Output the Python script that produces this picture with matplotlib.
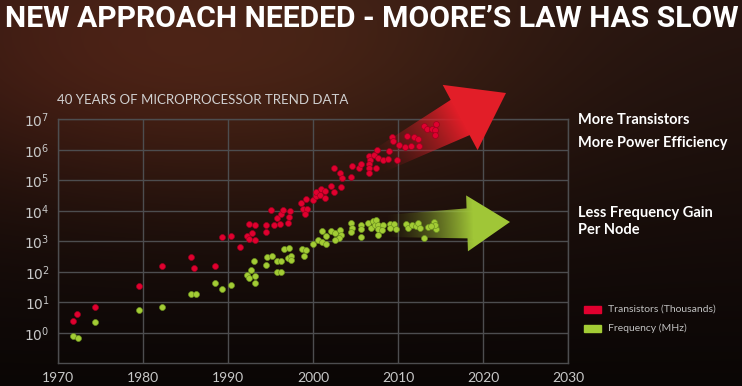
import numpy as np
import matplotlib
matplotlib.use("Agg")
import matplotlib.pyplot as plt
from matplotlib.patches import Polygon

# ---------------------------------------------------------------------------
# data
# ---------------------------------------------------------------------------
trans_year = [1971.8, 1972.2, 1974.3, 1979.5, 1982.2, 1985.7, 1986.0, 1988.5, 1989.3, 1990.4,
              1991.4, 1992.2, 1992.5, 1992.8, 1993.2, 1992.5, 1993.2, 1994.5, 1994.5, 1995.1,
              1995.4, 1995.8, 1996.15, 1996.2, 1996.5, 1997.1, 1997.2, 1997.3, 1998.6, 1999.2,
              1998.8, 1999.3, 1999.0, 2000.0, 2000.35, 2000.4, 2000.9, 2000.8, 2001.45, 2001.4,
              2002.1, 2002.5, 2003.3, 2002.5, 2003.15, 2003.4, 2004.5, 2004.55, 2005.4, 2005.6,
              2006.6, 2006.7, 2006.6, 2006.6, 2006.6, 2007.2, 2007.4, 2007.5, 2007.7, 2008.2,
              2008.8, 2008.9, 2009.9, 2009.35, 2009.4, 2010.1, 2011.0, 2010.8, 2011.5, 2011.9,
              2012.4, 2012.5, 2013.0, 2013.4, 2013.96, 2014.5, 2014.4, 2014.4]
trans_k = [2.5, 4.0, 6.9, 34, 150, 300, 130, 150, 1400, 1500,
           650, 1500, 1200, 1900, 1070, 3600, 3500, 2000, 3500, 11000,
           3500, 5900, 3800, 7600, 11000, 4100, 6200, 9500, 18000, 24000,
           11200, 11200, 7600, 23000, 30000, 42000, 50000, 32000, 43000, 27000,
           66000, 41000, 59000, 250000, 180000, 118000, 130000, 300000, 250000, 350000,
           650000, 470000, 350000, 260000, 180000, 660000, 260000, 950000, 550000, 480000,
           500000, 910000, 480000, 2600000, 1950000, 1480000, 2800000, 1260000, 1300000, 2600000,
           2300000, 1380000, 5900000, 4900000, 4900000, 6800000, 4400000, 3000000]

freq_year = [1971.8, 1972.3, 1974.3, 1979.5, 1982.2, 1985.7, 1986.2, 1988.5, 1989.3, 1990.4,
             1992.2, 1992.5, 1992.7, 1993.0, 1993.2, 1993.2, 1994.5, 1994.6, 1995.2, 1995.8,
             1996.2, 1995.8, 1996.2, 1996.6, 1997.2, 1997.0, 1997.45, 1997.4, 1998.7, 1999.2,
             1998.9, 2000.0, 2000.55, 2001.0, 2001.5, 2001.0, 2001.5, 2002.1, 2002.6, 2003.2,
             2003.3, 2003.1, 2002.6, 2004.5, 2004.6, 2004.5, 2005.6, 2005.7, 2005.7, 2006.5,
             2006.8, 2007.1, 2007.3, 2007.4, 2007.7, 2007.7, 2008.2, 2008.1, 2007.6, 2009.0,
             2009.5, 2009.05, 2009.8, 2010.9, 2011.2, 2011.6, 2012.1, 2012.4, 2012.6, 2013.1,
             2013.5, 2014.2, 2014.5, 2014.35, 2013.9]
freq_mhz = [0.81, 0.66, 2.2, 5.6, 7.1, 18.6, 18.6, 44, 28, 38,
            78, 62, 115, 224, 74, 44, 170, 300, 340, 220,
            220, 100, 100, 540, 620, 290, 330, 240, 540, 510,
            330, 830, 1070, 980, 830, 2140, 1510, 2240, 1900, 2290,
            1660, 1290, 1120, 3900, 2800, 2040, 3470, 2450, 1350, 4070,
            2630, 4790, 3550, 5130, 3550, 2450, 3310, 2290, 1660, 3720,
            3720, 2750, 2570, 3800, 2750, 3390, 3090, 4070, 2690, 1320,
            2950, 4270, 2570, 3550, 3090]

x_ticks = [1970, 1980, 1990, 2000, 2010, 2020, 2030]
y_exps = [0, 1, 2, 3, 4, 5, 6, 7]

RED = "#e0002f"
GREEN = "#a3cc35"
W, H = 742, 386

# ---------------------------------------------------------------------------
# figure + background
# ---------------------------------------------------------------------------
fig = plt.figure(figsize=(W / 100, H / 100), dpi=100)

bg = fig.add_axes([0, 0, 1, 1], zorder=0)
yy, xx = np.mgrid[0:H, 0:W]
t = yy / H
base = np.stack([38 - 28 * t, 21 - 15 * t, 16 - 11 * t], axis=-1)
glow = np.exp(-(((xx - 300) / 260.0) ** 2 + ((yy - 60) / 150.0) ** 2))
base += glow[..., None] * np.array([30, 14, 6])
corner = np.exp(-(((xx - 60) / 220.0) ** 2 + ((yy - 60) / 130.0) ** 2))
base += corner[..., None] * np.array([24, 7, 4])
bg.imshow(np.clip(base, 0, 255).astype(np.uint8), extent=[0, W, H, 0], aspect="auto")
bg.set_xlim(0, W)
bg.set_ylim(H, 0)
bg.axis("off")

rect = [58 / W, 1 - 363.3 / H, 510 / W, 244 / H]

# grid axes
ax = fig.add_axes(rect, zorder=1)
ax.set_facecolor("none")
ax.set_yscale("log")
ax.set_xlim(1970, 2030)
ax.set_ylim(1e-1, 1e7)
ax.set_xticks(x_ticks)
ax.set_yticks([10.0 ** e for e in y_exps])
ax.set_yticklabels([f"$10^{{{e}}}$" for e in y_exps])
ax.yaxis.set_minor_locator(matplotlib.ticker.NullLocator())
ax.grid(True, color="#4d4d4f", linewidth=1.0)
for s in ax.spines.values():
    s.set_color("#4d4d4f")
    s.set_linewidth(1.0)
ax.tick_params(length=0, colors="#c8c8c8", labelsize=10, pad=6)
for lab in ax.get_xticklabels() + ax.get_yticklabels():
    lab.set_family("Lato")

# arrows (pixel coordinates, y down)
ov = fig.add_axes([0, 0, 1, 1], zorder=2)
ov.axis("off")
ov.patch.set_alpha(0)


def gradient_arrow(axis, tail, tip, head_len, head_w, shaft_w0, shaft_w1, rgb, fade=0.6):
    tail = np.array(tail, float)
    tip = np.array(tip, float)
    u = (tip - tail) / np.linalg.norm(tip - tail)
    n = np.array([-u[1], u[0]])
    hb = tip - head_len * u
    pts = [tail + shaft_w0 * n, hb + shaft_w1 * n, hb + head_w * n, tip,
           hb - head_w * n, hb - shaft_w1 * n, tail - shaft_w0 * n]
    poly = Polygon(pts, closed=True, facecolor="none", edgecolor="none")
    axis.add_patch(poly)
    proj = (xx - tail[0]) * u[0] + (yy - tail[1]) * u[1]
    length = np.linalg.norm(tip - tail)
    a = np.clip(proj / (length * fade), 0, 1) ** 1.4
    img = np.zeros((H, W, 4))
    img[..., :3] = np.array(rgb) / 255.0
    img[..., 3] = a
    im = axis.imshow(img, extent=[0, W, H, 0], aspect="auto", interpolation="bilinear")
    im.set_clip_path(poly)


gradient_arrow(ov, (375, 163), (506, 93), 52, 37, 12, 20, (226, 30, 40), fade=0.65)
gradient_arrow(ov, (385, 226), (510, 222), 43, 28, 11, 15, (160, 198, 55), fade=0.7)
ov.set_xlim(0, W)
ov.set_ylim(H, 0)

# points axes
ax2 = fig.add_axes(rect, zorder=3, sharex=ax, sharey=ax)
ax2.set_facecolor("none")
ax2.axis("off")
ax2.scatter(trans_year, trans_k, s=18, color=RED, edgecolors="#a0001f", linewidths=0.5)
ax2.scatter(freq_year, freq_mhz, s=18, color=GREEN, edgecolors="#6f9420", linewidths=0.5)
ax2.set_xlim(1970, 2030)
ax2.set_ylim(1e-1, 1e7)

# ---------------------------------------------------------------------------
# text
# ---------------------------------------------------------------------------
fig.text(5 / W, 1 - 27 / H, "NEW APPROACH NEEDED - MOORE\u2019S LAW HAS SLOW",
         color="white", fontsize=21.7, fontweight="bold",
         family="Roboto", va="baseline", ha="left")
fig.text(203 / W, 1 - 100 / H, "40 YEARS OF MICROPROCESSOR TREND DATA",
         color="#d0d0d0", fontsize=9.5, family="Lato", ha="center", va="center")

for txt, y in [("More Transistors", 120), ("More Power Efficiency", 143),
               ("Less Frequency Gain", 213), ("Per Node", 230)]:
    fig.text(578 / W, 1 - y / H, txt, color="white", fontsize=10.5, fontweight="bold",
             family="Lato", ha="left", va="center")

for col, lab, y in [(RED, "Transistors (Thousands)", 309), (GREEN, "Frequency (MHz)", 328)]:
    fig.patches.append(matplotlib.patches.Rectangle((584 / W, 1 - (y + 3.5) / H), 17 / W, 7 / H,
                                                    transform=fig.transFigure, color=col))
    fig.text(608 / W, 1 - y / H, lab, color="#c0c0c0", fontsize=7.5, family="Lato",
             ha="left", va="center")

fig.savefig("out.png", dpi=100)
